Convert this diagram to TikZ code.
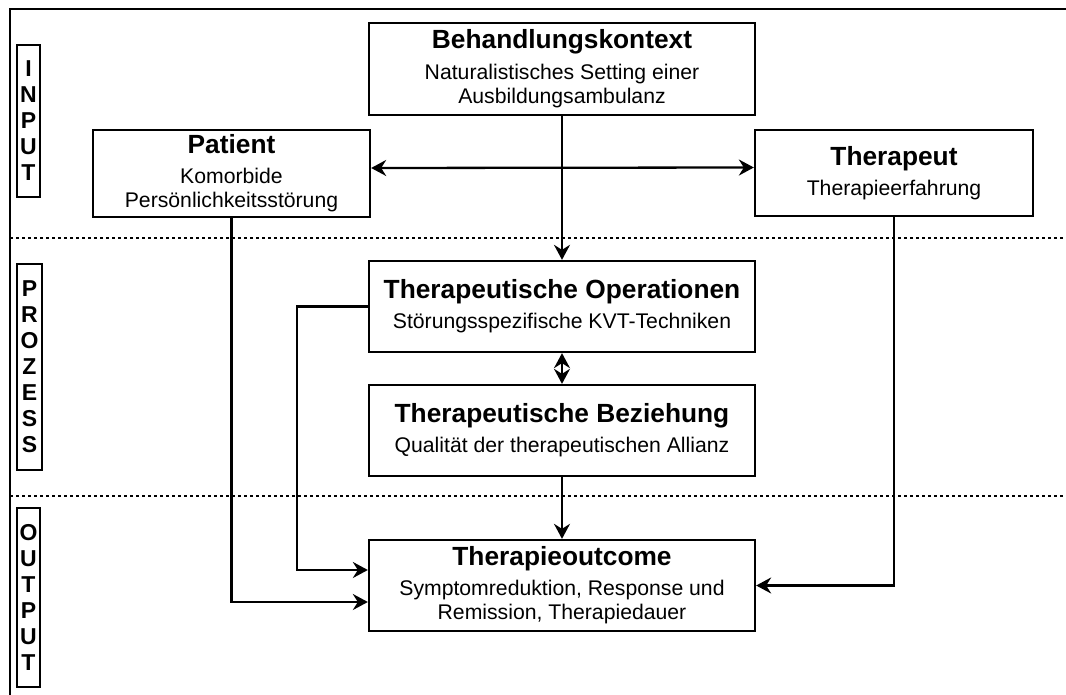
\documentclass[tikz,border=0pt]{standalone}
\usepackage{fontspec}
\setmainfont{Liberation Sans}
\usetikzlibrary{arrows.meta,calc}
\newcommand\ttlfont{\bfseries\fontsize{26.3}{30}\selectfont}
\newcommand\bdyfont{\fontsize{21.2}{24}\selectfont}
\newcommand\lblfont{\bfseries\fontsize{23}{26}\selectfont}
\begin{document}
\begin{tikzpicture}[x=1pt,y=-1pt,
  box/.style={draw, line width=2.3pt, inner sep=0pt, align=center, font=\bdyfont},
  lbl/.style={draw, line width=2pt, inner sep=0pt, align=center, font=\lblfont},
  conn/.style={line width=2.3pt},
  arr/.style={conn, -{Stealth[length=15pt,width=16pt,inset=5pt]}},
  dblarr/.style={conn, {Stealth[length=15pt,width=16pt,inset=5pt]}-{Stealth[length=15pt,width=16pt,inset=5pt]}},
  sep/.style={line width=2.5pt, dash pattern=on 3pt off 3pt}]
\useasboundingbox (0,0) rectangle (1066,695);
% frame
\draw[line width=2.6pt] (10,695) -- (10,9) -- (1066,9);
% separators
\draw[sep] (10,238) -- (1066,238);
\draw[sep] (10,496) -- (1066,496);
% phase labels
\node[lbl, minimum width=23, minimum height=152] (lin) at (28.5,121) {I\\N\\P\\U\\T};
\node[lbl, minimum width=25, minimum height=206] (lpr) at (29.5,367) {P\\R\\O\\Z\\E\\S\\S};
\node[lbl, minimum width=23, minimum height=179] (lout) at (28.5,597.5) {O\\U\\T\\P\\U\\T};
% boxes
\node[box, minimum width=386, minimum height=92] (bk) at (562,69)
  {{\ttlfont Behandlungskontext}\\[7pt]Naturalistisches Setting einer\\Ausbildungsambulanz};
\node[box, minimum width=277, minimum height=87] (pat) at (231.5,173.5)
  {{\ttlfont Patient}\\[6pt]Komorbide\\Persönlichkeitsstörung};
\node[box, minimum width=278, minimum height=86] (ther) at (894,173)
  {{\ttlfont Therapeut}\\[6pt]Therapieerfahrung};
\node[box, minimum width=386, minimum height=91] (op) at (562,306.5)
  {{\ttlfont Therapeutische Operationen}\\[6pt]Störungsspezifische KVT-Techniken};
\node[box, minimum width=386, minimum height=91] (bez) at (562,430.5)
  {{\ttlfont Therapeutische Beziehung}\\[6pt]Qualität der therapeutischen Allianz};
\node[box, minimum width=386, minimum height=91] (out) at (562,585.5)
  {{\ttlfont Therapieoutcome}\\[6pt]Symptomreduktion, Response und\\Remission, Therapiedauer};
% connectors
\draw[dblarr] ([yshift=5.5pt]pat.east) -- ([yshift=5.5pt]ther.west);
\draw[arr] (bk.south) -- (op.north);
\draw[dblarr] (op.south) -- (bez.north);
\draw[arr] (bez.south) -- (out.north);
\draw[arr] (pat.south) |- ($(out.west)+(0,16.5)$);
\draw[arr] (op.west) -- ++(-71,0) |- ($(out.west)+(0,-15.5)$);
\draw[arr] (ther.south) |- (out.east);
\end{tikzpicture}
\end{document}
